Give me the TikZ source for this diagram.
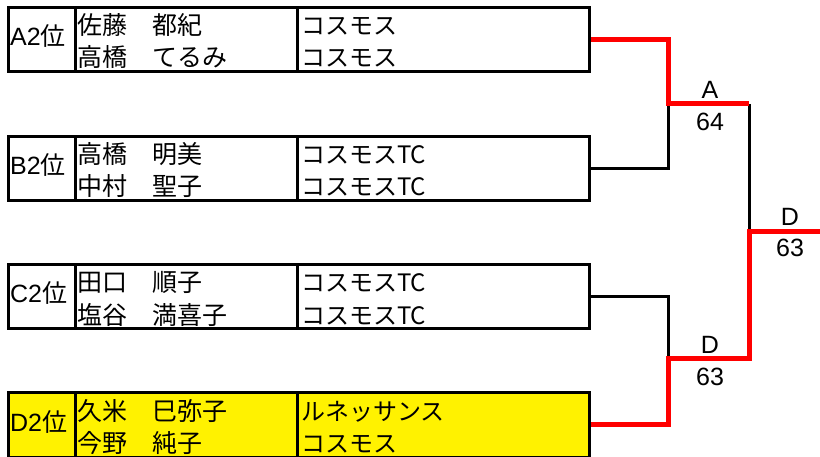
\documentclass[tikz,border=0pt]{standalone}
\usepackage{fontspec}
\setmainfont{Liberation Sans}
\newfontfamily\jp{Noto Sans CJK JP}
\usepackage{tikz}

\begin{document}
\begin{tikzpicture}[x=1pt,y=-1pt,
        cell/.style={draw=black, line width=3pt, anchor=north west, minimum height=64.5pt, inner sep=0pt},
        hit/.style={cell, fill=yellow},
        txt/.style={anchor=base west, inner sep=0pt, font=\fontsize{25pt}{25pt}\selectfont},
        club/.style={txt, font=\fontsize{24pt}{24pt}\selectfont},
        score/.style={inner sep=0pt, font=\fontsize{25pt}{25pt}\selectfont},
        lose/.style={draw=black, line width=3pt},
        win/.style={draw=red, line width=5pt}]
            \useasboundingbox (0,0) rectangle (820,457);
            % A2
            \node [cell, minimum width=67pt] (a2pos) at (7,6) {};
            \node [cell, minimum width=222pt] (a2name) at (74,6) {};
            \node [cell, minimum width=292pt] (a2team) at (296,6) {};
            \node [txt] (a2l) at (10,46) {A2\jp{位}};
            \node [txt] (a2n1) at (77,35) {\jp{佐藤　都紀}};
            \node [txt] (a2n2) at (77,67) {\jp{高橋　てるみ}};
            \node [club] (a2t1) at (301,35) {\jp{コスモス}};
            \node [club] (a2t2) at (301,67) {\jp{コスモス}};
            % B2
            \node [cell, minimum width=67pt] (b2pos) at (7,135) {};
            \node [cell, minimum width=222pt] (b2name) at (74,135) {};
            \node [cell, minimum width=292pt] (b2team) at (296,135) {};
            \node [txt] (b2l) at (10,175) {B2\jp{位}};
            \node [txt] (b2n1) at (77,164) {\jp{高橋　明美}};
            \node [txt] (b2n2) at (77,196) {\jp{中村　聖子}};
            \node [club] (b2t1) at (301,164) {\jp{コスモス}TC};
            \node [club] (b2t2) at (301,196) {\jp{コスモス}TC};
            % C2
            \node [cell, minimum width=67pt] (c2pos) at (7,263) {};
            \node [cell, minimum width=222pt] (c2name) at (74,263) {};
            \node [cell, minimum width=292pt] (c2team) at (296,263) {};
            \node [txt] (c2l) at (10,303) {C2\jp{位}};
            \node [txt] (c2n1) at (77,292) {\jp{田口　順子}};
            \node [txt] (c2n2) at (77,324) {\jp{塩谷　満喜子}};
            \node [club] (c2t1) at (301,292) {\jp{コスモス}TC};
            \node [club] (c2t2) at (301,324) {\jp{コスモス}TC};
            % D2
            \node [hit, minimum width=67pt] (d2pos) at (7,391) {};
            \node [hit, minimum width=222pt] (d2name) at (74,391) {};
            \node [hit, minimum width=292pt] (d2team) at (296,391) {};
            \node [txt] (d2l) at (10,431) {D2\jp{位}};
            \node [txt] (d2n1) at (77,420) {\jp{久米　巳弥子}};
            \node [txt] (d2n2) at (77,452) {\jp{今野　純子}};
            \node [club] (d2t1) at (301,420) {\jp{ルネッサンス}};
            \node [club] (d2t2) at (301,452) {\jp{コスモス}};
            % bracket
            \coordinate (semiA) at (668,104);
            \coordinate (semiAend) at (749,104);
            \coordinate (semiD) at (668,358);
            \coordinate (semiDend) at (749,358);
            \coordinate (final) at (749,232);
            \coordinate (champ) at (822,232);
            \draw [lose] (b2team.east) -| (semiA);
            \draw [lose] (c2team.east) -| (semiD);
            \draw [lose] (semiAend) -- (final);
            \draw [win] (a2team.east) -| (semiA) -- (semiAend);
            \draw [win] (d2team.east) -| (semiD) -- (semiDend) -- (final) -- (champ);
            \node [score] (semiAwin) at (710,90) {A};
            \node [score] (semiAgames) at (710,122) {64};
            \node [score] (semiDwin) at (710,345) {D};
            \node [score] (semiDgames) at (710,377) {63};
            \node [score] (finalwin) at (790,217) {D};
            \node [score] (finalgames) at (790,248) {63};
\end{tikzpicture}
\end{document}
